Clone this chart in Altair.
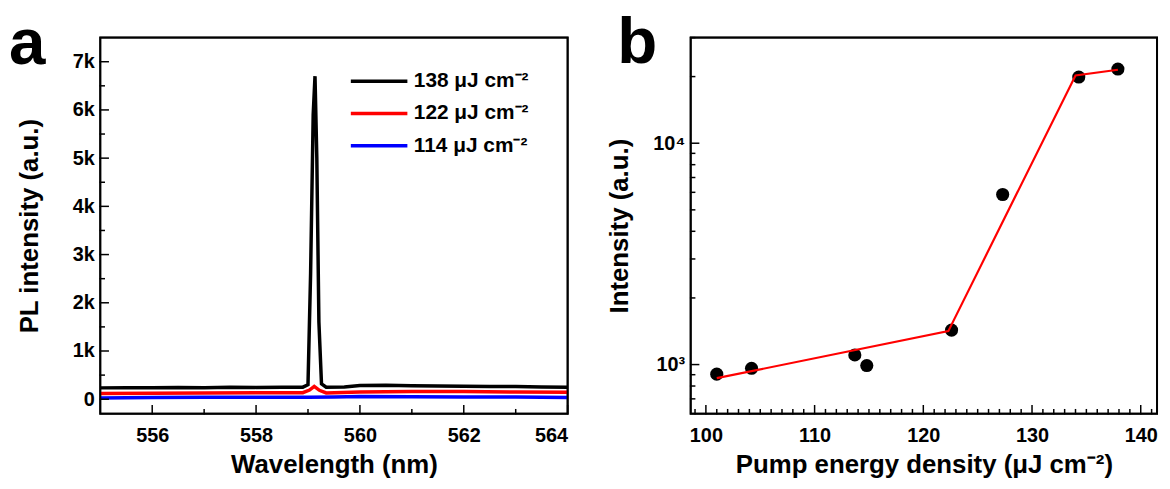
import math
import altair as alt
import pandas as pd

FONT = "Liberation Sans"

# ---------------- Panel a: PL spectra ----------------
series_labels = ["138 μJ cm⁻²", "122 μJ cm⁻²", "114 μJ cm⁻²"]
series_colors = ["#000000", "#ff0000", "#0000ff"]

wl_138 = [555.0, 555.5, 556.0, 556.5, 557.0, 557.5, 558.0, 558.5, 558.9, 559.0,
          559.05, 559.1, 559.135, 559.17, 559.21, 559.26, 559.35, 559.7, 560.0,
          560.5, 561.0, 561.5, 562.0, 562.5, 563.0, 563.5, 564.0]
pl_138 = [235, 240, 238, 245, 240, 250, 245, 248, 250, 300,
          2600, 5900, 6700, 5000, 1600, 320, 250, 255, 285,
          290, 280, 275, 270, 265, 262, 255, 250]

wl_122 = [555.0, 556.0, 557.0, 558.0, 558.9, 559.03, 559.12, 559.22, 559.35, 560.0,
          561.0, 562.0, 563.0, 564.0]
pl_122 = [120, 125, 130, 135, 135, 190, 265, 185, 130, 150,
          160, 158, 150, 145]

wl_114 = [555.0, 556.0, 557.0, 558.0, 559.0, 559.5, 560.0, 561.0, 562.0, 563.0, 564.0]
pl_114 = [25, 35, 40, 42, 40, 45, 55, 50, 48, 45, 35]

# ---------------- Panel b: intensity vs pump ----------------
pump = [101.0, 104.2, 113.7, 114.8, 122.6, 127.3, 134.3, 137.9]
intensity = [905, 962, 1105, 990, 1431, 5865, 19910, 21630]

fit_x = [101.0, 122.3, 134.0, 137.9]
fit_y = [868, 1416, 20230, 21480]

# axis ranges and tick values
a_x_dom = [555, 564]
a_y_dom = [-300, 7500]
b_x_dom = [98.6, 141.5]
b_y_dom = [600, 30000]
a_x_major = [556, 558, 560, 562, 564]
a_x_minor = [557, 559, 561, 563]
a_y_major = [0, 1000, 2000, 3000, 4000, 5000, 6000, 7000]
a_y_minor = [500, 1500, 2500, 3500, 4500, 5500, 6500]
b_x_major = [100, 110, 120, 130, 140]
b_x_minor = [v for v in range(99, 142) if v % 10 != 0]
b_y_major = [1000, 10000]
b_y_minor = [700, 800, 900, 2000, 3000, 4000, 5000, 6000, 7000, 8000, 9000, 20000, 30000]

W, H = 471, 379
WB = 470
MAJ, MIN = 8, 4

rows = []
for lab, wls, vals in [(series_labels[2], wl_114, pl_114),
                       (series_labels[1], wl_122, pl_122),
                       (series_labels[0], wl_138, pl_138)]:
    for w, v in zip(wls, vals):
        rows.append({"wl": w, "pl": v, "series": lab})
spec = pd.DataFrame(rows)

AX = dict(labelFont=FONT, labelFontSize=20, labelFontWeight="bold", labelColor="#000",
          titleFont=FONT, titleFontSize=26, titleFontWeight="bold", titleColor="#000",
          ticks=False, domain=False, grid=False)


def lin_step(dom, px, length):
    return (dom[1] - dom[0]) * length / px


def log_end(dom, px, length):
    lo, hi = math.log10(dom[0]), math.log10(dom[1])
    return 10 ** (lo + (hi - lo) * length / px)


def tick_frame_layer(xdom, ydom, xscale, yscale, width, xmaj, xmin, ymaj, ymin, ylog=False):
    recs = []
    k = 0
    # x ticks (inward from bottom edge)
    for vals, L in ((xmaj, MAJ), (xmin, MIN)):
        y1 = log_end(ydom, H, L) if ylog else ydom[0] + lin_step(ydom, H, L)
        for v in vals:
            recs.append({"id": k, "o": 0, "x": v, "y": ydom[0], "w": 1.5})
            recs.append({"id": k, "o": 1, "x": v, "y": y1, "w": 1.5})
            k += 1
    # y ticks (inward from left edge)
    for vals, L in ((ymaj, MAJ), (ymin, MIN)):
        x1 = xdom[0] + lin_step(xdom, width, L)
        for v in vals:
            recs.append({"id": k, "o": 0, "x": xdom[0], "y": v, "w": 1.5})
            recs.append({"id": k, "o": 1, "x": x1, "y": v, "w": 1.5})
            k += 1
    # frame
    corners = [(xdom[0], ydom[0]), (xdom[1], ydom[0]), (xdom[1], ydom[1]),
               (xdom[0], ydom[1]), (xdom[0], ydom[0])]
    for i, (cx, cy) in enumerate(corners):
        recs.append({"id": k, "o": i, "x": cx, "y": cy, "w": 2.0})
    df = pd.DataFrame(recs)
    return alt.Chart(df).mark_line(color="#000", strokeCap="square").encode(
        x=alt.X("x:Q", scale=xscale, axis=None),
        y=alt.Y("y:Q", scale=yscale, axis=None),
        detail="id:N",
        order="o:Q",
        strokeWidth=alt.StrokeWidth("w:Q", scale=None, legend=None),
    )


xa_scale = alt.Scale(domain=a_x_dom, nice=False, zero=False)
ya_scale = alt.Scale(domain=a_y_dom, nice=False, zero=False)

lines_a = alt.Chart(spec).mark_line(strokeWidth=3.5).encode(
    x=alt.X("wl:Q", scale=xa_scale,
            axis=alt.Axis(values=a_x_major, format="d", title="Wavelength (nm)",
                          labelPadding=12, titlePadding=6, **AX)),
    y=alt.Y("pl:Q", scale=ya_scale,
            axis=alt.Axis(values=a_y_major, title="PL intensity (a.u.)",
                          labelExpr="datum.value == 0 ? '0' : (datum.value/1000) + 'k'",
                          labelPadding=6, titlePadding=30, **AX)),
    color=alt.Color("series:N",
                    scale=alt.Scale(domain=series_labels, range=series_colors),
                    legend=alt.Legend(title=None, orient="none", legendX=265, legendY=28,
                                      symbolType="M-2,0H2", symbolSize=812,
                                      symbolStrokeWidth=3.5, labelFontSize=21,
                                      labelFont=FONT, labelFontWeight="bold",
                                      labelColor="#000", rowPadding=6.5, labelOffset=19,
                                      padding=0)),
)

label_a = alt.Chart(pd.DataFrame({"t": ["a"]})).mark_text(
    font=FONT, fontWeight="bold", fontSize=66, align="left", baseline="alphabetic", color="#000"
).encode(text="t:N", x=alt.value(-92), y=alt.value(27))

panel_a = alt.layer(
    lines_a,
    tick_frame_layer(a_x_dom, a_y_dom, xa_scale, ya_scale, W,
                     a_x_major, a_x_minor, a_y_major, a_y_minor),
    label_a,
).resolve_axis(x="independent", y="independent").properties(width=W, height=H)

# ---- panel b
xb_scale = alt.Scale(domain=b_x_dom, nice=False, zero=False)
yb_scale = alt.Scale(type="log", domain=b_y_dom, nice=False)

pts = pd.DataFrame({"x": pump, "y": intensity})
fit = pd.DataFrame({"x": fit_x, "y": fit_y})

points_b = alt.Chart(pts).mark_circle(size=175, color="#000", opacity=1).encode(
    x=alt.X("x:Q", scale=xb_scale,
            axis=alt.Axis(values=b_x_major, format="d", title="Pump energy density (μJ cm⁻²)",
                          labelPadding=12, titlePadding=6, **AX)),
    y=alt.Y("y:Q", scale=yb_scale,
            axis=alt.Axis(values=b_y_major, title="Intensity (a.u.)",
                          labelExpr="datum.value == 1000 ? '10³' : '10⁴'",
                          labelPadding=6, titlePadding=21, **AX)),
)
fit_b = alt.Chart(fit).mark_line(color="#ff0000", strokeWidth=2.2).encode(
    x=alt.X("x:Q", scale=xb_scale, axis=None),
    y=alt.Y("y:Q", scale=yb_scale, axis=None))
label_b = alt.Chart(pd.DataFrame({"t": ["b"]})).mark_text(
    font=FONT, fontWeight="bold", fontSize=66, align="left", baseline="alphabetic", color="#000"
).encode(text="t:N", x=alt.value(-74), y=alt.value(26))

panel_b = alt.layer(
    points_b, fit_b,
    tick_frame_layer(b_x_dom, b_y_dom, xb_scale, yb_scale, WB,
                     b_x_major, b_x_minor, b_y_major, b_y_minor, ylog=True),
    label_b,
).resolve_axis(x="independent", y="independent").properties(width=WB, height=H)

chart = alt.hconcat(panel_a, panel_b, spacing=124, bounds="flush").resolve_scale(
    color="independent"
).properties(
    padding={"left": 0, "top": 0, "right": 0, "bottom": 0},
    background="white",
).configure_view(
    stroke="#000", strokeWidth=1.8
)

chart.save("out.html", embed_options={"renderer": "svg", "actions": False})
